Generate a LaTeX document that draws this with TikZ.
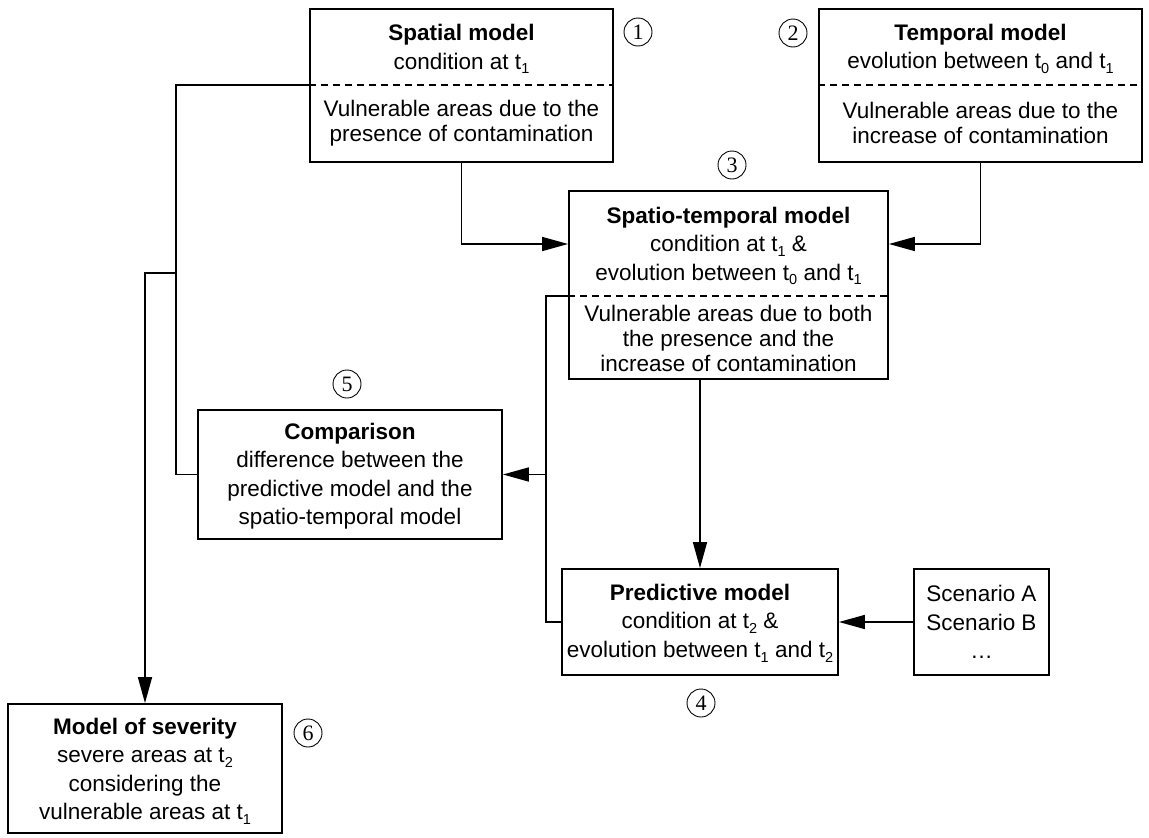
\documentclass[tikz,border=0pt]{standalone}
\usepackage{fontspec}
\setmainfont{Liberation Sans}
\newfontfamily\numfont{Liberation Serif}
\usetikzlibrary{arrows.meta}
\newcommand{\tsub}[1]{\raisebox{-0.4ex}{\fontsize{14.5}{14.5}\selectfont #1}}
\begin{document}
\begin{tikzpicture}[x=1pt,y=-1pt,
  box/.style={draw,line width=1.8pt,inner sep=0pt},
  txt/.style={align=center,inner sep=0pt,font=\fontsize{22.5}{28.5}\selectfont},
  txtb/.style={align=center,inner sep=0pt,font=\fontsize{22.5}{25}\selectfont},
  divider/.style={line width=1.5pt,dash pattern=on 7pt off 5pt},
  conn/.style={line width=1.6pt},
  arr/.style={conn,-{Triangle[length=26pt,width=14pt]}},
  num/.style={circle,draw,line width=0.9pt,minimum size=28pt,inner sep=0pt,font=\numfont\fontsize{22}{22}\selectfont}]
\useasboundingbox (0,0) rectangle (1149,838);

% boxes
\node[box,minimum width=303pt,minimum height=153pt] (sp) at (461.5,85.5) {};
\node[box,minimum width=323pt,minimum height=153pt] (tm) at (980.5,85.5) {};
\node[box,minimum width=319pt,minimum height=188pt] (st) at (728.5,285) {};
\node[box,minimum width=304pt,minimum height=129pt] (cmp) at (350,474.5) {};
\node[box,minimum width=276pt,minimum height=106pt] (pr) at (700,622) {};
\node[box,minimum width=135pt,minimum height=106pt] (sc) at (981.5,622) {};
\node[box,minimum width=274pt,minimum height=129pt] (sev) at (145,768.5) {};

% dividers
\coordinate (spd) at (310,85);
\coordinate (tmd) at (819,85);
\coordinate (std) at (569,296);
\draw[divider] (sp.west |- spd) -- (sp.east |- spd);
\draw[divider] (tm.west |- tmd) -- (tm.east |- tmd);
\draw[divider] (st.west |- std) -- (st.east |- std);

% texts
\node[txt] (spt) at (461.5,49) {\textbf{Spatial model}\\condition at t\tsub{1}};
\node[txtb] (spb) at (461.5,123) {Vulnerable areas due to the\\presence of contamination};
\node[txt] (tmt) at (980.5,49) {\textbf{Temporal model}\\evolution between t\tsub{0} and t\tsub{1}};
\node[txtb] (tmb) at (980.5,123) {Vulnerable areas due to the\\increase of contamination};
\node[txt] (stt) at (728.5,246) {\textbf{Spatio-temporal model}\\condition at t\tsub{1} \&\\evolution between t\tsub{0} and t\tsub{1}};
\node[txtb] (stb) at (728.5,338) {Vulnerable areas due to both\\the presence and the\\increase of contamination};
\node[txt] (cmpt) at (350,476) {\textbf{Comparison}\\difference between the\\predictive model and the\\spatio-temporal model};
\node[txt] (prt) at (700,623) {\textbf{Predictive model}\\condition at t\tsub{2} \&\\evolution between t\tsub{1} and t\tsub{2}};
\node[txt] (sct) at (981.5,622) {Scenario A\\Scenario B\\…};
\node[txt] (sevt) at (145,771) {\textbf{Model of severity}\\severe areas at t\tsub{2}\\considering the\\vulnerable areas at t\tsub{1}};

% numbers
\node[num] (n1) at (638,32) {1};
\node[num] (n2) at (793,33) {2};
\node[num] (n3) at (732,165) {3};
\node[num] (n4) at (701,703) {4};
\node[num] (n5) at (347,384) {5};
\node[num] (n6) at (308,733) {6};

% connectors
\coordinate (j1) at (176,273);
\coordinate (j2) at (546,474.5);
\draw[arr] (sp.south) |- ([yshift=41pt]st.west);
\draw[arr] (tm.south) |- ([yshift=41pt]st.east);
\draw[conn] (sp.west |- spd) -| (j1) |- (cmp.west);
\draw[arr] (j1) -| (sev.north);
\draw[conn] (st.west |- std) -| (j2) |- (pr.west);
\draw[arr] (j2) -- (cmp.east);
\draw[arr] (st.south -| pr.north) -- (pr.north);
\draw[arr] (sc.west) -- (pr.east);
\end{tikzpicture}
\end{document}
